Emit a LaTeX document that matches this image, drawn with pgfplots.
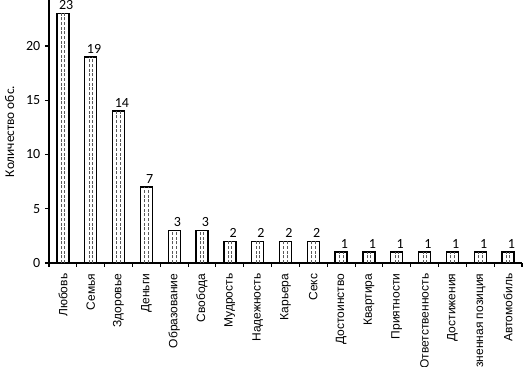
\documentclass[border=0pt]{standalone}
\usepackage{pgfplots}
\usepackage{pgfplotstable}
\pgfplotsset{compat=1.18}
\usepackage{fontspec}
\setmainfont{Carlito}
\newfontfamily\arialf{Liberation Sans}
\pgfplotstableread{
x y
0 23
1 19
2 14
3 7
4 3
5 3
6 2
7 2
8 2
9 2
10 1
11 1
12 1
13 1
14 1
15 1
16 1
}\datatable
\begin{document}
\begin{tikzpicture}
\begin{axis}[
  at={(0,0)}, anchor=south west,
  scale only axis, width=354.75pt, height=197.25pt,
  xmin=-0.5, xmax=16.5, ymin=0, ymax=24.24,
  axis lines*=left,
  axis line style={line width=0.8pt},
  /pgf/number format/assume math mode=true,
  xtick={0,...,16},
  xticklabels={Любовь,Семья,Здоровье,Деньги,Образование,Свобода,Мудрость,Надежность,Карьера,Секс,Достоинство,Квартира,Приятности,Ответственность,Достижения,Жизненная позиция,Автомобиль},
  xticklabel style={rotate=90, anchor=east, font=\arialf\fontsize{9}{11}\selectfont, xshift=1pt},
  xticklabel shift=2.5pt,
  minor xtick={-0.5,0.5,...,16.5},
  major x tick style={draw=none},
  minor x tick style={black, line width=0.8pt},
  tick align=outside,
  major tick length=3pt, minor tick length=3pt,
  ytick={0,5,...,20},
  y tick style={black, line width=0.8pt},
  yticklabel style={font=\fontsize{10.5}{12}\selectfont},
  ylabel={Количество обс.},
  ylabel style={font=\fontsize{10}{12}\selectfont, xshift=0pt, yshift=2pt},
  clip=false,
]
\addplot[ybar, bar width=9pt, fill=white, draw=black, line width=1pt,
  nodes near coords,
  every node near coord/.append style={font=\fontsize{10.5}{12}\selectfont, xshift=2.5pt, yshift=-1pt}]
  table[x=x,y=y] {\datatable};
\addplot[ycomb, mark=none, draw=black!65, line width=0.5pt, dash pattern=on 2.2pt off 1.3pt, xshift=-1.3pt]
  table[x=x,y=y] {\datatable};
\addplot[ycomb, mark=none, draw=black!65, line width=0.5pt, dash pattern=on 2.2pt off 1.3pt, xshift=1.3pt]
  table[x=x,y=y] {\datatable};
\end{axis}
\pgfresetboundingbox
\useasboundingbox (-36.75pt,-78pt) rectangle (357.75pt,197.25pt);
\end{tikzpicture}
\end{document}
